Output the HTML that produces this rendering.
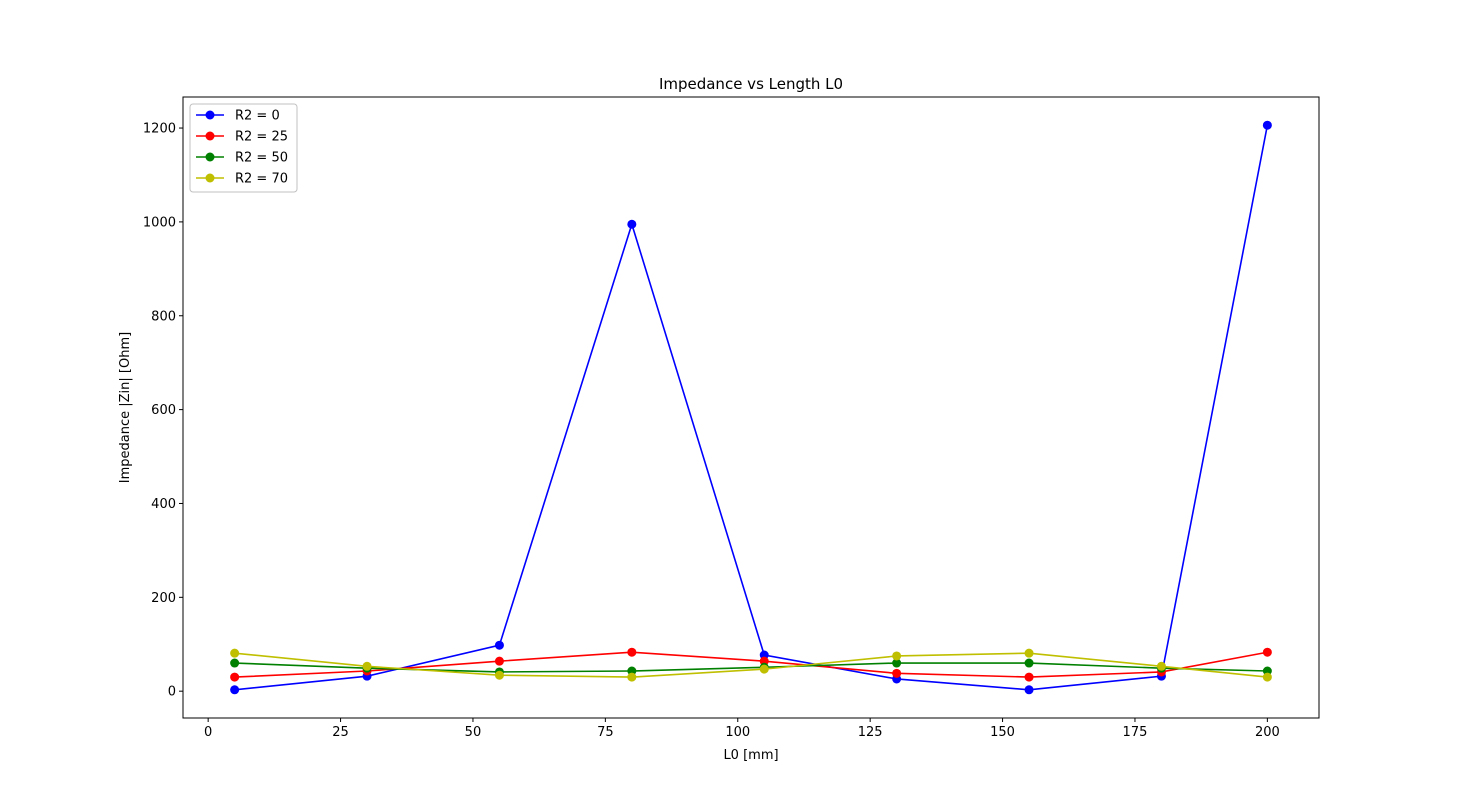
<!DOCTYPE html>
<html><head><meta charset="utf-8"><style>
body{margin:0;background:#fff;font-family:"Liberation Sans","DejaVu Sans",sans-serif;}
svg text{font-family:"DejaVu Sans","Liberation Sans",sans-serif;font-size:13px;fill:#000}
</style></head><body>
<svg id="chart" width="1467" height="807"></svg>
<script>
const categories=[5,30,55,80,105,130,155,180,200];
const seriesR0=[3,32,98,995,77,26,3,32,1206];
const seriesR25=[30,43,64,83,64,38,30,41,83];
const seriesR50=[60,49,41,43,51,60,60,49,43];
const seriesR70=[81,53,34,30,47,75,81,53,30];
const xTicks=[0,25,50,75,100,125,150,175,200];
const yTicks=[0,200,400,600,800,1000,1200];
const seriesNames=["R2 = 0","R2 = 25","R2 = 50","R2 = 70"];
const colors=["#0000ff","#ff0000","#008000","#bfbf00"];
const allSeries=[seriesR0,seriesR25,seriesR50,seriesR70];

const L=183,R=1319,T=97,B=718;
const NS="http://www.w3.org/2000/svg";
const svg=document.getElementById('chart');
function el(t,a,p){const e=document.createElementNS(NS,t);for(const k in a)e.setAttribute(k,a[k]);(p||svg).appendChild(e);return e;}
const xmin0=Math.min(...categories),xmax0=Math.max(...categories),xm=(xmax0-xmin0)*0.05;
const xmin=xmin0-xm,xmax=xmax0+xm;
const all=allSeries.flat();const ymin0=Math.min(...all),ymax0=Math.max(...all),ym=(ymax0-ymin0)*0.05;
const ymin=ymin0-ym,ymax=ymax0+ym;
const X=v=>L+(v-xmin)/(xmax-xmin)*(R-L);
const Y=v=>B-(v-ymin)/(ymax-ymin)*(B-T);

let t=el('text',{x:(L+R)/2,y:89,'text-anchor':'middle',style:'font-size:15px'});t.textContent='Impedance vs Length L0';


xTicks.forEach(v=>{const x=X(v);
 const l=el('line',{x1:x,x2:x,y1:B,y2:B+4,stroke:'#000'});
 
 
 const tx=el('text',{x:x,y:B+18,'text-anchor':'middle'});tx.textContent=v;
 
 });
yTicks.forEach(v=>{const y=Y(v);
 const l=el('line',{x1:L-4,x2:L,y1:y,y2:y,stroke:'#000'});
 
 
 const tx=el('text',{x:L-7,y:y+4.5,'text-anchor':'end'});tx.textContent=v;
 
 });
t=el('text',{x:(L+R)/2,y:759,'text-anchor':'middle'});t.textContent='L0 [mm]';


t=el('text',{x:129,y:(T+B)/2,'text-anchor':'middle',transform:`rotate(-90 129 ${(T+B)/2})`});t.textContent='Impedance |Zin| [Ohm]';



allSeries.forEach((s,i)=>{
 const g=el('g',{});
 
 
 const p=el('polyline',{points:s.map((v,j)=>X(categories[j])+','+Y(v)).join(' '),fill:'none',stroke:colors[i],'stroke-width':1.6},g);
 
 
 s.forEach((v,j)=>{const c=el('circle',{cx:X(categories[j]),cy:Y(v),r:4.5,fill:colors[i]},g);
  
  });
});
const fr=el('rect',{x:L,y:T,width:R-L,height:B-T,fill:'none',stroke:'#000','stroke-width':1});



const lg=el('g',{});


el('rect',{x:190,y:104,width:107,height:88,fill:'#fff',stroke:'#333','stroke-opacity':0.3,rx:3},lg);
seriesNames.forEach((n,i)=>{const y=115+i*21;
 const e=el('g',{},lg);
 
 
 el('line',{x1:196,x2:224,y1:y,y2:y,stroke:colors[i],'stroke-width':1.6},e);
 el('circle',{cx:210,cy:y,r:4.5,fill:colors[i]},e);
 const tx=el('text',{x:235,y:y+4.5},e);tx.textContent=n;});
</script>
</body></html>
